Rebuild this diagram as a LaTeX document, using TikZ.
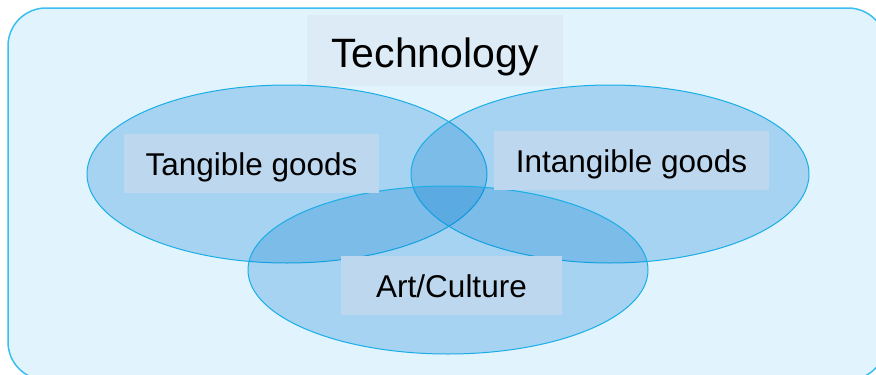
\documentclass[tikz,border=0pt]{standalone}
\usepackage{fontspec}
\setmainfont{Liberation Sans}
\definecolor{bgfill}{HTML}{E1F3FD}
\definecolor{bgline}{HTML}{3CBFF0}
\definecolor{ellline}{HTML}{1AAEE6}
\definecolor{ellfill}{RGB}{0,123,210}
\definecolor{labfill}{HTML}{BDD7EE}
\definecolor{techfill}{HTML}{DDEBF7}
\begin{document}
\begin{tikzpicture}[x=1pt,y=-1pt,
  setring/.style={draw=ellline,line width=1pt,fill=ellfill,fill opacity=0.26},
  labelbox/.style={fill=labfill,inner sep=0pt,text height=31pt,text depth=7pt,font=\fontsize{31.5}{36}\selectfont,text=black},
  techbox/.style={fill=techfill,inner sep=0pt,text height=40pt,text depth=6pt,font=\fontsize{41}{48}\selectfont,text=black}]
\useasboundingbox (0,0) rectangle (876,375);
% outer frame
\draw[bgline,fill=bgfill,line width=1.5pt,rounded corners=38pt] (8,8) rectangle (886,380);
% technology label
\node[techbox,minimum width=256pt,minimum height=71pt] (tech) at (435,50) {Technology};
% sets
\path[setring] (287,174) ellipse [x radius=200pt, y radius=89pt];
\path[setring] (610,174) ellipse [x radius=199pt, y radius=89pt];
\path[setring] (448,270) ellipse [x radius=200pt, y radius=84pt];
% labels
\node[labelbox,minimum width=255pt,minimum height=59pt] (tangible) at (251.5,163.5) {Tangible goods};
\node[labelbox,minimum width=275pt,minimum height=59pt] (intangible) at (631.5,160.5) {Intangible goods};
\node[labelbox,minimum width=221pt,minimum height=59pt] (art) at (451.5,285.5) {Art/Culture};
\end{tikzpicture}
\end{document}
